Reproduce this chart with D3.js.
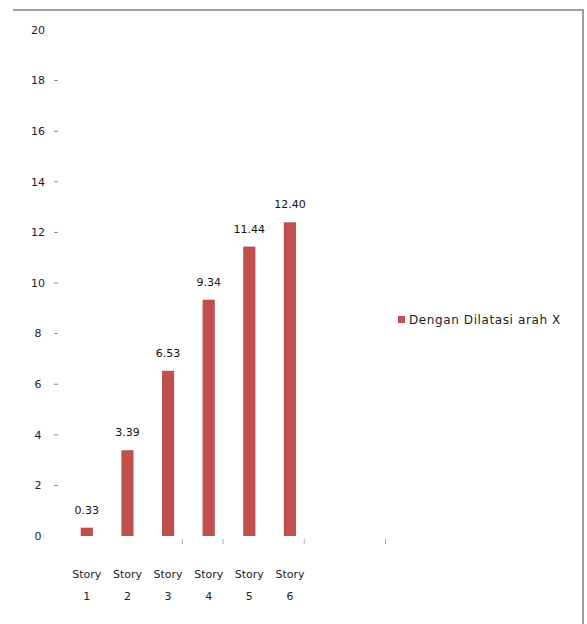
<!DOCTYPE html>
<html>
<head>
<meta charset="utf-8">
<script src="https://cdn.jsdelivr.net/npm/d3@7"></script>
<style>
  body { margin: 0; background: #fff; }
  text { font-family: "DejaVu Sans", sans-serif; }
</style>
</head>
<body>
<svg id="chart" width="587" height="624"></svg>
<script>
// data
const stories = ["Story 1", "Story 2", "Story 3", "Story 4", "Story 5", "Story 6"];
const blanks = ["", " "]; // two empty slots on the right of the axis
const drift = [0.33, 3.39, 6.53, 9.34, 11.44, 12.40];
const yTicks = [0, 2, 4, 6, 8, 10, 12, 14, 16, 18, 20];
const seriesName = "Dengan Dilatasi arah X";

const width = 587;
const height = 624;
const barColor = "#c0504d";

const svg = d3.select("#chart");

// frame: only top and right edges show
svg.append("path")
  .attr("d", `M13,10H583V624`)
  .attr("fill", "none")
  .attr("stroke", "#a0a0a0")
  .attr("stroke-width", 2);

const x = d3.scaleBand()
  .domain(stories.concat(blanks))
  .range([66.5, 391.5])
  .paddingInner(0.7)
  .paddingOuter(0.35);

const y = d3.scaleLinear()
  .domain([0, 20])
  .range([536, 30]);

// y axis: labels and small dashes, no line
const yAxis = svg.append("g");
yAxis.selectAll("text")
  .data(yTicks)
  .join("text")
  .attr("x", 38)
  .attr("y", (d) => y(d))
  .attr("dy", "0.35em")
  .attr("text-anchor", "middle")
  .attr("font-size", 11)
  .attr("fill", "#222")
  .text((d) => d);
yAxis.selectAll("line")
  .data(yTicks.filter((d) => d > 0 && d < 20))
  .join("line")
  .attr("x1", 54)
  .attr("x2", 58)
  .attr("y1", (d) => y(d))
  .attr("y2", (d) => y(d))
  .attr("stroke", "#888");

// faint tick marks under the baseline
const step = x.step();
const bounds = d3.range(1, 9).map((i) => x.range()[0] + i * step);
svg.append("g")
  .selectAll("line")
  .data([bounds[2], bounds[3], bounds[5], bounds[7]])
  .join("line")
  .attr("x1", (d) => d - 6)
  .attr("x2", (d) => d - 6)
  .attr("y1", 539)
  .attr("y2", 544)
  .attr("stroke", "#aaa");

// bars
svg.append("g")
  .selectAll("rect")
  .data(drift)
  .join("rect")
  .attr("x", (d, i) => x(stories[i]))
  .attr("y", (d) => y(d))
  .attr("width", x.bandwidth())
  .attr("height", (d) => y(0) - y(d))
  .attr("fill", barColor);

// value labels
svg.append("g")
  .selectAll("text")
  .data(drift)
  .join("text")
  .attr("x", (d, i) => x(stories[i]) + x.bandwidth() / 2)
  .attr("y", (d) => y(d) - 14)
  .attr("text-anchor", "middle")
  .attr("font-size", 11)
  .attr("fill", "#111")
  .text((d) => d.toFixed(2));

// category labels, two lines
const cat = svg.append("g")
  .selectAll("text")
  .data(stories)
  .join("text")
  .attr("text-anchor", "middle")
  .attr("font-size", 11)
  .attr("fill", "#222");
cat.append("tspan")
  .attr("x", (d) => x(d) + x.bandwidth() / 2)
  .attr("y", 578)
  .text((d) => d.split(" ")[0]);
cat.append("tspan")
  .attr("x", (d) => x(d) + x.bandwidth() / 2)
  .attr("y", 600)
  .text((d) => d.split(" ")[1]);

// legend
const legend = svg.append("g").attr("transform", "translate(398,320)");
legend.append("rect")
  .attr("x", 0)
  .attr("y", -4)
  .attr("width", 7)
  .attr("height", 7)
  .attr("fill", barColor);
legend.append("text")
  .attr("x", 11)
  .attr("y", 0)
  .attr("dy", "0.35em")
  .attr("font-size", 12)
  .attr("letter-spacing", 0.6)
  .attr("fill", "#222")
  .text(seriesName);
</script>
</body>
</html>
